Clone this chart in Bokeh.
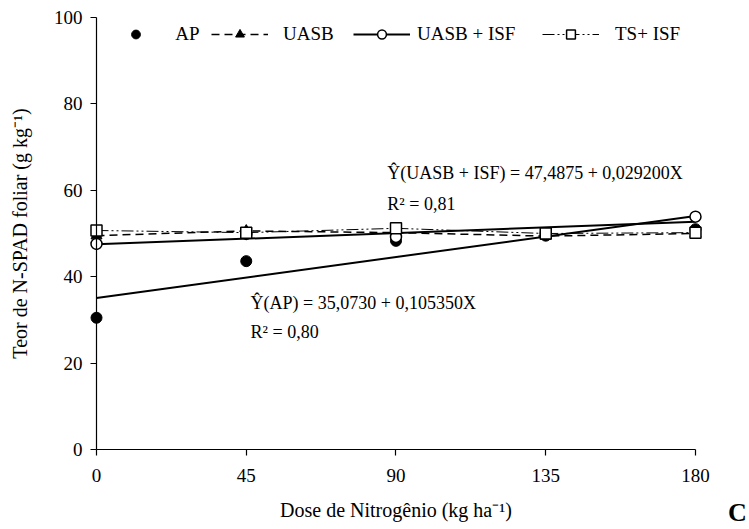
from bokeh.plotting import figure
from bokeh.models import Range1d, Legend, LegendItem, Label, FixedTicker
from bokeh.embed import file_html
from bokeh.resources import INLINE

# Nitrogen doses (kg/ha) and leaf N-SPAD content (g/kg) per treatment
doses = [0, 45, 90, 135, 180]
ap = [30.5, 43.6, 48.3, 49.5, 51.0]
uasb = [49.5, 50.6, 50.2, 49.4, 50.0]
uasb_isf = [47.6, 49.9, 49.2, 50.0, 53.9]
ts_isf = [50.7, 50.2, 51.2, 50.0, 50.2]

# Fitted linear models: intercept, slope, R²
ap_fit = (35.0730, 0.105350, 0.80)
uasb_isf_fit = (47.4875, 0.029200, 0.81)

x_ticks = [0, 45, 90, 135, 180]
y_ticks = [0, 20, 40, 60, 80, 100]

FONT = "Liberation Serif"

# The frame fills the whole canvas; axes are pinned at the origin so that
# markers sitting on the axes are not cut and the tick labels stay visible.
p = figure(frame_width=749, frame_height=529,
           min_border_left=0, min_border_right=0,
           min_border_top=0, min_border_bottom=0,
           x_range=Range1d(-28.85, 196.23), y_range=Range1d(-18.52, 103.94),
           output_backend="svg", toolbar_location=None)
p.outline_line_color = None
p.grid.visible = False
p.background_fill_color = "white"
p.border_fill_color = "white"

for ax in (p.xaxis[0], p.yaxis[0]):
    ax.axis_line_color = "black"
    ax.axis_line_width = 1.2
    ax.major_tick_line_color = "black"
    ax.major_tick_line_width = 1.2
    ax.major_tick_out = 6
    ax.major_tick_in = 0
    ax.minor_tick_line_color = None
    ax.major_label_text_font = FONT
    ax.major_label_text_font_size = "19px"
    ax.major_label_text_color = "black"
    ax.axis_label_text_font = FONT
    ax.axis_label_text_font_size = "20px"
    ax.axis_label_text_font_style = "normal"
    ax.axis_label_text_color = "black"

p.xaxis.ticker = FixedTicker(ticks=x_ticks)
p.yaxis.ticker = FixedTicker(ticks=y_ticks)
p.xaxis.bounds = (0, 180)
p.yaxis.bounds = (0, 100)
p.xaxis.fixed_location = 0
p.yaxis.fixed_location = 0
p.xaxis.major_label_standoff = 14
p.yaxis.major_label_standoff = 8
p.xaxis.axis_label = "Dose de Nitrogênio (kg ha\u207b\u00b9)"
p.yaxis.axis_label = "Teor de N-SPAD foliar (g kg\u207b\u00b9)"
p.xaxis.axis_label_standoff = 13
p.yaxis.axis_label_standoff = 20

# Regression lines from fitted coefficients
def fit_line(fit):
    a, b, _ = fit
    xs = [doses[0], doses[-1]]
    return xs, [a + b * x for x in xs]

ax_, ay_ = fit_line(ap_fit)
ux_, uy_ = fit_line(uasb_isf_fit)
ap_line = p.line(ax_, ay_, line_color="black", line_width=2)
ui_line = p.line(ux_, uy_, line_color="black", line_width=2)
u_line = p.line(doses, uasb, line_color="black", line_width=1.5, line_dash="8 5")
t_line = p.line(doses, ts_isf, line_color="black", line_width=1, line_dash="12 3 2 3 2 3")

ap_pts = p.scatter(doses, ap, marker="circle", size=11, fill_color="black", line_color="black")
u_pts = p.scatter(doses, uasb, marker="triangle", size=11, fill_color="black", line_color="black")
ui_pts = p.scatter(doses, uasb_isf, marker="circle", size=11, fill_color="white",
                   line_color="black", line_width=1.5)
t_pts = p.scatter(doses, ts_isf, marker="square", size=11, fill_color="white",
                  line_color="black", line_width=1.5)

# Legend entries laid out along the top of the plot (screen px from frame bottom-left)
entries = [
    ("AP", [ap_pts], 107.3, 11),
    ("UASB", [u_line, u_pts], 211.0, 15),
    ("UASB + ISF", [ui_line, ui_pts], 353.0, 7),
    ("TS+ ISF", [t_line, t_pts], 542.0, 16),
]
for label, rends, lx, standoff in entries:
    leg = Legend(items=[LegendItem(label=label, renderers=rends)],
                 location=(lx, 484), orientation="horizontal",
                 glyph_width=57, glyph_height=22, label_height=22,
                 label_standoff=standoff, padding=0, margin=0, spacing=0,
                 border_line_color=None, background_fill_alpha=0,
                 label_text_font=FONT, label_text_font_size="19px",
                 label_text_color="black")
    p.add_layout(leg, "center")

def fmt(v, nd):
    return f"{v:.{nd}f}".replace(".", ",")

eq_style = dict(text_font=FONT, text_font_size="18px", text_color="black",
                text_baseline="middle", text_align="left")
p.add_layout(Label(x=87.4, y=63.9,
                   text=f"\u0176(UASB + ISF) = {fmt(uasb_isf_fit[0], 4)} + {fmt(uasb_isf_fit[1], 6)}X",
                   **eq_style))
p.add_layout(Label(x=87.4, y=56.9, text=f"R\u00b2 = {fmt(uasb_isf_fit[2], 2)}", **eq_style))
p.add_layout(Label(x=46.3, y=33.8,
                   text=f"\u0176(AP) = {fmt(ap_fit[0], 4)} + {fmt(ap_fit[1], 6)}X",
                   **eq_style))
p.add_layout(Label(x=46.3, y=27.1, text=f"R\u00b2 = {fmt(ap_fit[2], 2)}", **eq_style))

# Panel letter
p.add_layout(Label(x=189.8, y=-14.6, text="C", text_font=FONT, text_font_size="26px",
                   text_font_style="bold", text_color="black",
                   text_baseline="middle", text_align="left"))

open("out.html", "w").write(file_html(p, INLINE))
